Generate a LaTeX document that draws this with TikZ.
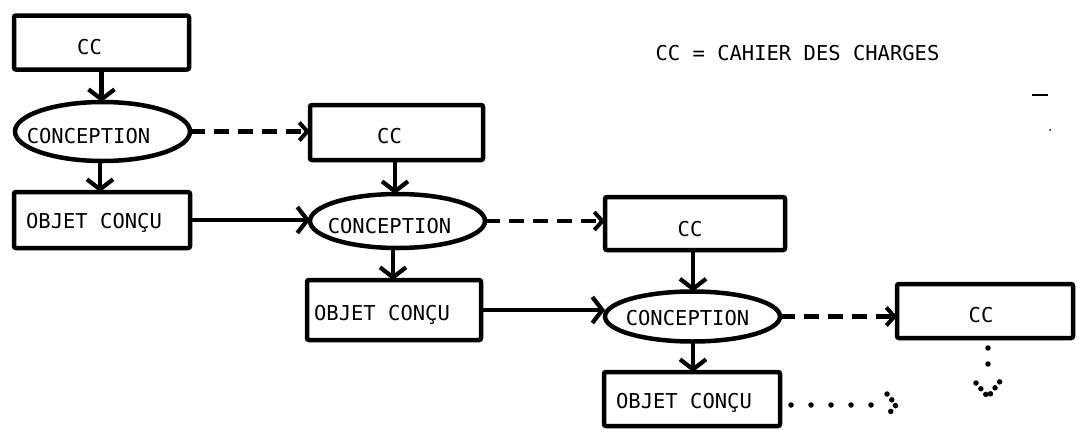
\documentclass[tikz,border=0pt]{standalone}
\usepackage{fontspec}
\setmonofont{DejaVu Sans Mono}
\usetikzlibrary{shapes.geometric,arrows.meta,calc}

\begin{document}
\begin{tikzpicture}[x=1pt,y=-1pt,
  every node/.style={font=\fontsize{20.5}{24}\selectfont\ttfamily, inner sep=0pt, outer sep=0pt},
  boxnode/.style={draw, line width=4.5pt, rectangle, rounded corners=2pt,
    minimum width=175pt, minimum height=54pt},
  ovalnode/.style={draw, line width=4.5pt, ellipse,
    minimum width=175pt, minimum height=56pt},
  flow/.style={line width=4.2pt,
    -{Straight Barb[length=10pt,width=26pt,line width=4.2pt]}},
  dashflow/.style={line width=4.2pt, dash pattern=on 15pt off 9pt,
    -{Straight Barb[length=8pt,width=18pt,line width=4pt]}},
  dotflow/.style={line width=5.5pt, line cap=round, dash pattern=on 0pt off 20pt},
  dothead/.style={line width=5.5pt, line cap=round, dash pattern=on 0pt off 7.5pt}
]
\useasboundingbox (0,0) rectangle (1079,429);

% first stage
\node[boxnode, label={[xshift=-12pt,yshift=-5pt]center:CC}] (cc1) at (101.5,42.5) {};
\node[ovalnode, minimum height=59pt, label={[xshift=-14pt,yshift=-5pt]center:CONCEPTION}] (con1) at (102.5,131.5) {};
\node[boxnode, minimum width=176pt, minimum height=56pt, label={[xshift=-8pt,yshift=-3pt]center:OBJET CONÇU}] (obj1) at (102,220) {};

% second stage
\node[boxnode, minimum width=173pt, minimum height=55pt, label={[xshift=-7pt,yshift=-4pt]center:CC}] (cc2) at (396.5,132.5) {};
\node[ovalnode, minimum height=54pt, label={[xshift=-8pt,yshift=-5pt]center:CONCEPTION}] (con2) at (397.5,221) {};
\node[boxnode, minimum width=174pt, minimum height=60pt, label={[xshift=-12pt,yshift=-5pt]center:OBJET CONÇU}] (obj2) at (394,310) {};

% third stage
\node[boxnode, minimum width=180pt, minimum height=53pt, label={[xshift=-5pt,yshift=-6pt]center:CC}] (cc3) at (695,223.5) {};
\node[ovalnode, minimum height=50pt, label={[xshift=-5pt,yshift=-2pt]center:CONCEPTION}] (con3) at (692.5,316.5) {};
\node[boxnode, minimum width=176pt, minimum height=54pt, label={[xshift=-8pt,yshift=-4pt]center:OBJET CONÇU}] (obj3) at (692,399) {};

% fourth stage
\node[boxnode, minimum width=176pt, minimum height=54pt, label={[xshift=-4pt,yshift=-4pt]center:CC}] (cc4) at (985,311) {};

% legend
\node (legend) at (797.5,53) {CC = CAHIER DES CHARGES};

% vertical flows
\draw[flow] (cc1.south -| 101.5,0) -- (con1.north -| 101.5,0);
\draw[flow] (con1.south -| 100,0) -- (obj1.north -| 100,0);
\draw[flow] (cc2.south -| 395,0) -- (con2.north -| 395,0);
\draw[flow] (con2.south -| 393,0) -- (obj2.north -| 393,0);
\draw[flow] (cc3.south -| 693,0) -- (con3.north -| 693,0);
\draw[flow] (con3.south -| 693,0) -- (obj3.north -| 693,0);

% solid horizontal flows
\draw[flow] (obj1.east) -- (obj1.east -| con2.west);
\draw[flow] (obj2.east) -- (obj2.east -| con3.west);

% dashed horizontal flows
\draw[dashflow] (con1.east) -- (con1.east -| cc2.west);
\draw[dashflow] (con2.east) -- (con2.east -| cc3.west);
\draw[dashflow] (con3.east) -- (con3.east -| cc4.west);

% dotted continuations
\coordinate (d1) at (896,405);
\coordinate (d2) at (988,397);
\draw[dotflow, dash phase=9pt] (obj3.east |- d1) -- ($(d1)+(-14,0)$);
\draw[dothead] ($(d1)+(-9,-11)$) -- (d1) -- ($(d1)+(-9,11)$);
\draw[dotflow, dash phase=6pt, dash pattern=on 0pt off 16pt] (d2 |- cc4.south) -- ($(d2)+(0,-20)$);
\draw[dothead] ($(d2)+(-12,-14)$) -- (d2) -- ($(d2)+(13,-17)$);

% small stray marks
\draw[line width=1.2pt] (1032,95) -- (1048,95);
\fill (1050,130) circle (1pt);
\end{tikzpicture}
\end{document}
